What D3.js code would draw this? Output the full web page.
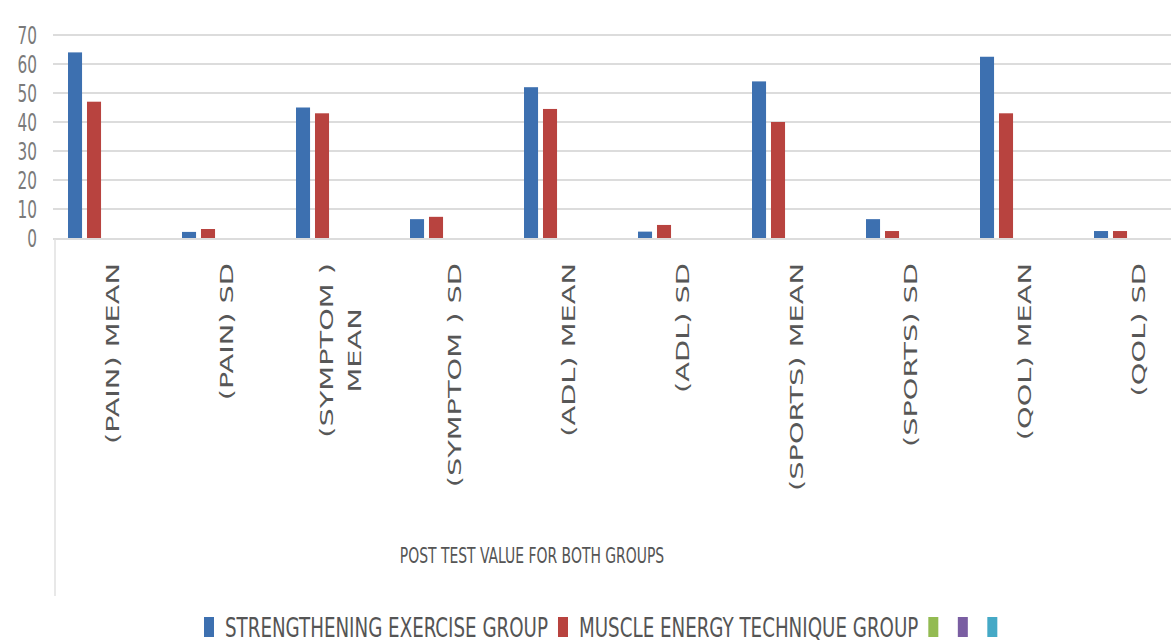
<!DOCTYPE html>
<html>
<head>
<meta charset="utf-8">
<script src="https://cdn.jsdelivr.net/npm/d3@7"></script>
<style>
  body { margin: 0; background: #fff; }
  svg { display: block; }
</style>
</head>
<body>
<div id="wrapper"></div>
<script>
// data
const categories = ["(PAIN) MEAN", "(PAIN) SD", "(SYMPTOM ) MEAN", "(SYMPTOM ) SD", "(ADL) MEAN",
  "(ADL) SD", "(SPORTS) MEAN", "(SPORTS) SD", "(QOL) MEAN", "(QOL) SD"]
const strengthening = [64, 2.1, 45, 6.5, 52, 2.2, 54, 6.5, 62.5, 2.4]
const muscleEnergy = [47, 3.1, 43, 7.3, 44.5, 4.5, 40, 2.4, 43, 2.4]
// the legend keeps three empty series after the two groups
const legendNames = ["STRENGTHENING EXERCISE GROUP", "MUSCLE ENERGY TECHNIQUE GROUP", "", "", ""]
const yTicks = [0, 10, 20, 30, 40, 50, 60, 70]
const axisTitle = "POST TEST VALUE FOR BOTH GROUPS"

const colors = ["#3d70b0", "#b8433f", "#93bb52", "#7a5ea2", "#45a9c6"]
const narrow = "'Liberation Sans Narrow', 'DejaVu Sans Condensed', sans-serif"

const width = 1171, height = 644
const svg = d3.select("#wrapper").append("svg")
  .attr("width", width)
  .attr("height", height)

const y = d3.scaleLinear().domain([0, 70]).range([238, 35])
const x0 = d3.scaleBand().domain(categories).range([56, 1196])
const x1 = d3.scaleBand().domain(d3.range(legendNames.length)).range([-45, 45]).paddingInner(0.26)

// gridlines
svg.append("g")
  .selectAll("line")
  .data(yTicks)
  .join("line")
  .attr("x1", 53).attr("x2", width)
  .attr("y1", d => y(d) + (d === 0 ? 1 : 0)).attr("y2", d => y(d) + (d === 0 ? 1 : 0))
  .attr("stroke", "#dcdcdc")
  .attr("stroke-width", 2)

// category-axis frame line
svg.append("line")
  .attr("x1", 55).attr("x2", 55)
  .attr("y1", 239).attr("y2", 596)
  .attr("stroke", "#e0e0e0")
  .attr("stroke-width", 1.5)

// y tick labels
svg.append("g")
  .selectAll("text")
  .data(yTicks)
  .join("text")
  .attr("transform", d => `translate(37,${y(d)}) scale(1,1.5)`)
  .attr("text-anchor", "end")
  .attr("dy", "0.35em")
  .attr("font-family", narrow)
  .attr("font-size", 17)
  .attr("fill", "#7a7a7a")
  .text(d => d)

// bars: the two groups sit in the first two of five slots
const rows = categories.map((c, i) => ({ c, vals: [strengthening[i], muscleEnergy[i]] }))
const cat = svg.append("g")
  .selectAll("g")
  .data(rows)
  .join("g")
  .attr("transform", d => `translate(${x0(d.c) + x0.bandwidth() / 2},0)`)

cat.selectAll("rect")
  .data(d => d.vals.map((v, j) => ({ v, j })))
  .join("rect")
  .attr("x", d => x1(d.j))
  .attr("width", x1.bandwidth())
  .attr("y", d => y(d.v))
  .attr("height", d => y(0) - y(d.v))
  .attr("fill", d => colors[d.j])

// category labels, rotated
categories.forEach(c => {
  let lines = [c]
  if (c.length > 14) {
    const k = c.lastIndexOf(" ")
    lines = [c.slice(0, k), c.slice(k + 1)]
  }
  const g = svg.append("g")
    .attr("transform", `translate(${x0(c) + x0.bandwidth() / 2},263) rotate(-90) scale(1.6,1)`)
  const t = g.append("text")
    .attr("font-family", "'DejaVu Sans', sans-serif")
    .attr("font-size", 18)
    .attr("fill", "#575757")
  const first = t.append("tspan").text(lines[0])
  const L = first.node().getComputedTextLength()
  const off = (lines.length - 1) * 14
  t.selectAll("tspan").remove()
  lines.forEach((ln, i) => {
    t.append("tspan")
      .attr("x", -L / 2)
      .attr("y", -off + i * 28)
      .attr("dy", "0.35em")
      .attr("text-anchor", "middle")
      .text(ln)
  })
})

// axis title
svg.append("text")
  .attr("transform", "translate(532,555) scale(1,1.4)")
  .attr("text-anchor", "middle")
  .attr("dy", "0.35em")
  .attr("font-family", narrow)
  .attr("font-size", 15.5)
  .attr("fill", "#555")
  .text(axisTitle)

// legend
const legend = svg.append("g").attr("transform", "translate(204,627)")
let lx = 0
legendNames.forEach((name, i) => {
  legend.append("rect")
    .attr("x", lx).attr("y", -10)
    .attr("width", 10).attr("height", 20)
    .attr("fill", colors[i])
  if (name) {
    const t = legend.append("text")
      .attr("x", lx + 21)
      .attr("transform", "scale(1,1.35)")
      .attr("dy", "0.35em")
      .attr("font-family", narrow)
      .attr("font-size", 20.3)
      .attr("fill", "#555")
      .text(name)
    lx += 21 + t.node().getComputedTextLength() + 10
  } else {
    lx += 29.5
  }
})
</script>
</body>
</html>
